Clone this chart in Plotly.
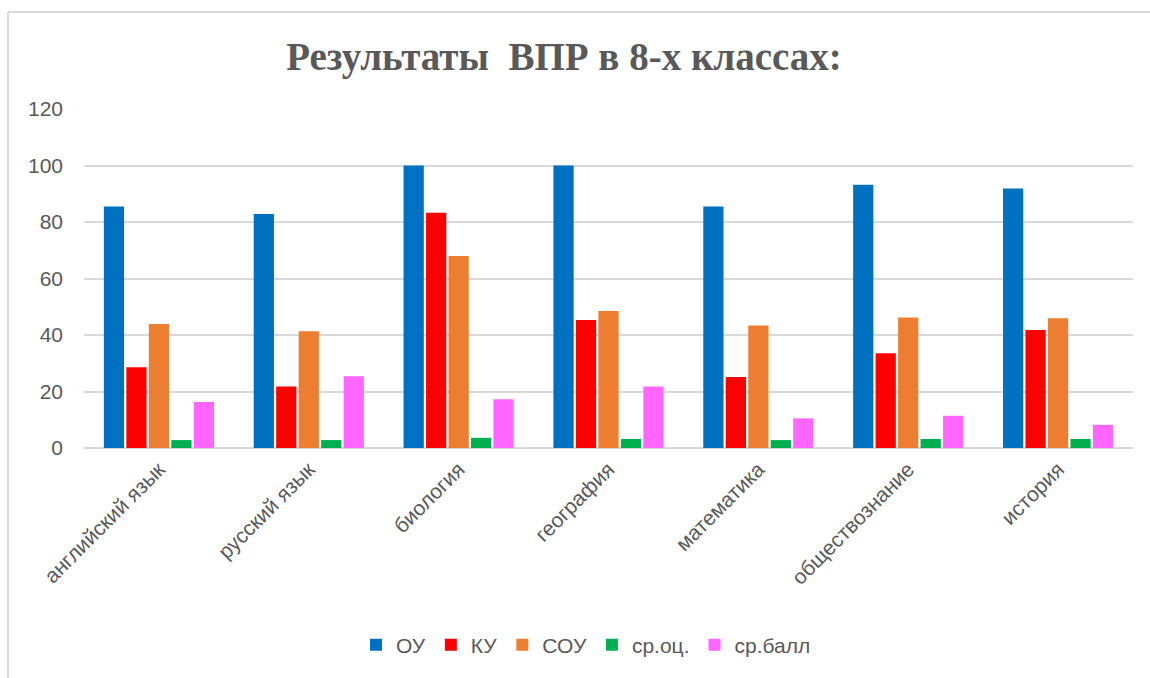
import plotly.graph_objects as go

categories = ["английский язык", "русский язык", "биология", "география",
              "математика", "обществознание", "история"]
ou = [85.5, 82.8, 100, 100, 85.5, 93.2, 91.9]
ku = [28.6, 21.8, 83.3, 45.3, 25.1, 33.5, 41.8]
sou = [43.9, 41.3, 68.0, 48.5, 43.4, 46.2, 45.9]
sr_oc = [2.8, 2.8, 3.6, 3.2, 2.8, 3.2, 3.2]
sr_ball = [16.3, 25.4, 17.3, 21.8, 10.5, 11.4, 8.2]

series = [
    ("ОУ", ou, "#0070C0"),
    ("КУ", ku, "#FF0000"),
    ("СОУ", sou, "#ED7D31"),
    ("ср.оц.", sr_oc, "#00B050"),
    ("ср.балл", sr_ball, "#FF66FF"),
]

fig = go.Figure()
for name, vals, color in series:
    fig.add_trace(go.Bar(name=name, x=categories, y=vals,
                         marker=dict(color=color, line=dict(width=0))))

W, H = 1150, 678
L, R, T, B = 84, 1133, 109, 448
pw, ph = R - L, B - T

fig.update_layout(
    width=W, height=H,
    margin=dict(l=L, r=W - R, t=T, b=H - B, autoexpand=False),
    paper_bgcolor="white", plot_bgcolor="white",
    barmode="group", bargap=0.25, bargroupgap=0.1,
    title=dict(text="<b>Результаты  ВПР в 8-х классах:</b>",
               font=dict(family="Liberation Serif", size=39, color="#595959"),
               x=564 / W, xanchor="center", xref="container",
               y=1 - 56 / H, yanchor="middle", yref="container"),
    font=dict(family="Liberation Sans", color="#595959", size=21),
    legend=dict(orientation="h", x=586 / W, xanchor="center", xref="container",
                y=(B - 645) / ph, yanchor="middle",
                font=dict(size=21, color="#595959"),
                itemsizing="constant", traceorder="normal"),
    showlegend=True,
)
fig.update_xaxes(tickangle=-45, showgrid=False, showline=False, zeroline=False,
                 tickfont=dict(size=21, color="#595959"),
                 ticks="", ticklabelstandoff=4)
fig.update_yaxes(range=[0, 120], dtick=20, showgrid=True, gridcolor="#D9D9D9",
                 gridwidth=1.5, zeroline=True, zerolinecolor="#D9D9D9", zerolinewidth=1.5,
                 showline=False, ticks="", tickfont=dict(size=21, color="#595959"),
                 ticklabelstandoff=20)

# chart frame lines (top and left)
fig.add_shape(type="line", xref="paper", yref="paper",
              x0=(8 - L) / pw, x1=(W - L) / pw, y0=(B - 12) / ph, y1=(B - 12) / ph,
              line=dict(color="#D9D9D9", width=2))
fig.add_shape(type="line", xref="paper", yref="paper",
              x0=(8 - L) / pw, x1=(8 - L) / pw, y0=(B - 12) / ph, y1=(B - H) / ph,
              line=dict(color="#D9D9D9", width=2))

fig.write_html("out.html", config={"displayModeBar": False},
               post_script="document.body.style.margin='0';document.body.style.overflow='hidden';")
